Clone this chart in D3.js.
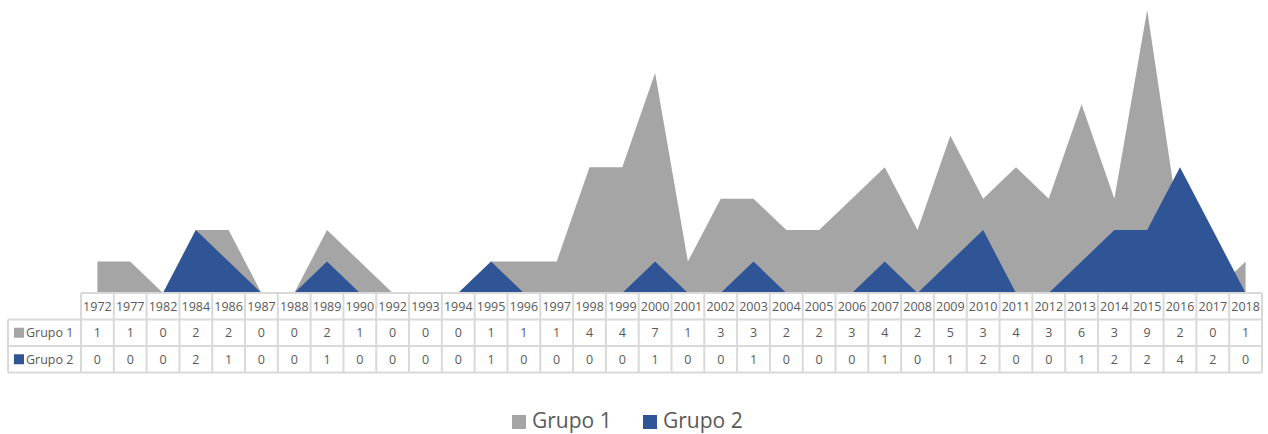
<!DOCTYPE html>
<html>
<head>
<meta charset='utf-8'>
<style>
body { margin:0; background:#fff; font-family:"Open Sans", "Noto Sans", sans-serif; }
svg text { fill:#595959; }
</style>
</head>
<body>
<svg width="1268" height="434"></svg>
<script src="https://cdn.jsdelivr.net/npm/d3@7/dist/d3.min.js"></script>
<script>
// years on the category axis
var years = ["1972","1977","1982","1984","1986","1987","1988","1989","1990","1992","1993","1994",
  "1995","1996","1997","1998","1999","2000","2001","2002","2003","2004","2005","2006","2007","2008",
  "2009","2010","2011","2012","2013","2014","2015","2016","2017","2018"];
var grupo1 = [1,1,0,2,2,0,0,2,1,0,0,0,1,1,1,4,4,7,1,3,3,2,2,3,4,2,5,3,4,3,6,3,9,2,0,1];
var grupo2 = [0,0,0,2,1,0,0,1,0,0,0,0,1,0,0,0,0,1,0,0,1,0,0,0,1,0,1,2,0,0,1,2,2,4,2,0];
var seriesNames = ["Grupo 1", "Grupo 2"];
var seriesColors = ["#a5a5a5", "#2f5597"];

var svg = d3.select('svg'),
    plotLeft = 81, plotRight = 1262,
    plotBase = 293, plotTop = 10,
    rowH = 26.5,
    gridColor = "#d9d9d9";

var x = d3.scaleBand().domain(years).range([plotLeft, plotRight]);
var y = d3.scaleLinear().domain([0, 9]).range([plotBase, plotTop]);

var series = [grupo1, grupo2];

var area = d3.area()
  .x(function(d, i) { return x(years[i]) + x.bandwidth()/2; })
  .y0(plotBase)
  .y1(function(d) { return y(d); });

svg.append('g').selectAll('path')
  .data(series)
  .enter().append('path')
    .attr('d', area)
    .attr('fill', function(d, i) { return seriesColors[i]; });

// data table under the plot
var tbl = svg.append('g');
var tableTop = plotBase, tableBottom = plotBase + rowH*3;

// horizontal lines
tbl.append('line').attr('x1', plotLeft).attr('x2', plotRight).attr('y1', tableTop).attr('y2', tableTop);
[1, 2, 3].forEach(function(r) {
  tbl.append('line').attr('x1', 8).attr('x2', plotRight)
    .attr('y1', tableTop + rowH*r).attr('y2', tableTop + rowH*r);
});
// vertical lines
tbl.append('line').attr('x1', 8).attr('x2', 8).attr('y1', tableTop + rowH).attr('y2', tableBottom);
years.forEach(function(yr) {
  tbl.append('line').attr('x1', x(yr)).attr('x2', x(yr)).attr('y1', tableTop).attr('y2', tableBottom);
});
tbl.append('line').attr('x1', plotRight).attr('x2', plotRight).attr('y1', tableTop).attr('y2', tableBottom);
tbl.selectAll('line').attr('stroke', gridColor).attr('stroke-width', 2);

// header years
tbl.selectAll('text.yr')
  .data(years)
  .enter().append('text')
    .attr('class', 'yr')
    .attr('x', function(d) { return x(d) + x.bandwidth()/2; })
    .attr('y', tableTop + rowH/2 + 4.5)
    .attr('text-anchor', 'middle')
    .attr('font-size', 12.5)
    .text(function(d) { return d; });

// series rows
series.forEach(function(s, r) {
  var cy = tableTop + rowH*(r+1) + rowH/2;
  tbl.append('rect').attr('x', 14).attr('y', cy - 5).attr('width', 10).attr('height', 10)
    .attr('fill', seriesColors[r]);
  tbl.append('text').attr('x', 26).attr('y', cy + 4.5).attr('font-size', 12.5).text(seriesNames[r]);
  tbl.selectAll('text.v' + r)
    .data(s)
    .enter().append('text')
      .attr('class', 'v' + r)
      .attr('x', function(d, i) { return x(years[i]) + x.bandwidth()/2; })
      .attr('y', cy + 4.5)
      .attr('text-anchor', 'middle')
      .attr('font-size', 12.5)
      .text(function(d) { return d; });
});

// legend
var legend = svg.append('g');
var lx = [512, 643];
seriesNames.forEach(function(n, i) {
  legend.append('rect').attr('x', lx[i]).attr('y', 415).attr('width', 14).attr('height', 14)
    .attr('fill', seriesColors[i]);
  legend.append('text').attr('x', lx[i] + 20).attr('y', 428).attr('font-size', 21).text(n);
});
</script>
</body>
</html>
